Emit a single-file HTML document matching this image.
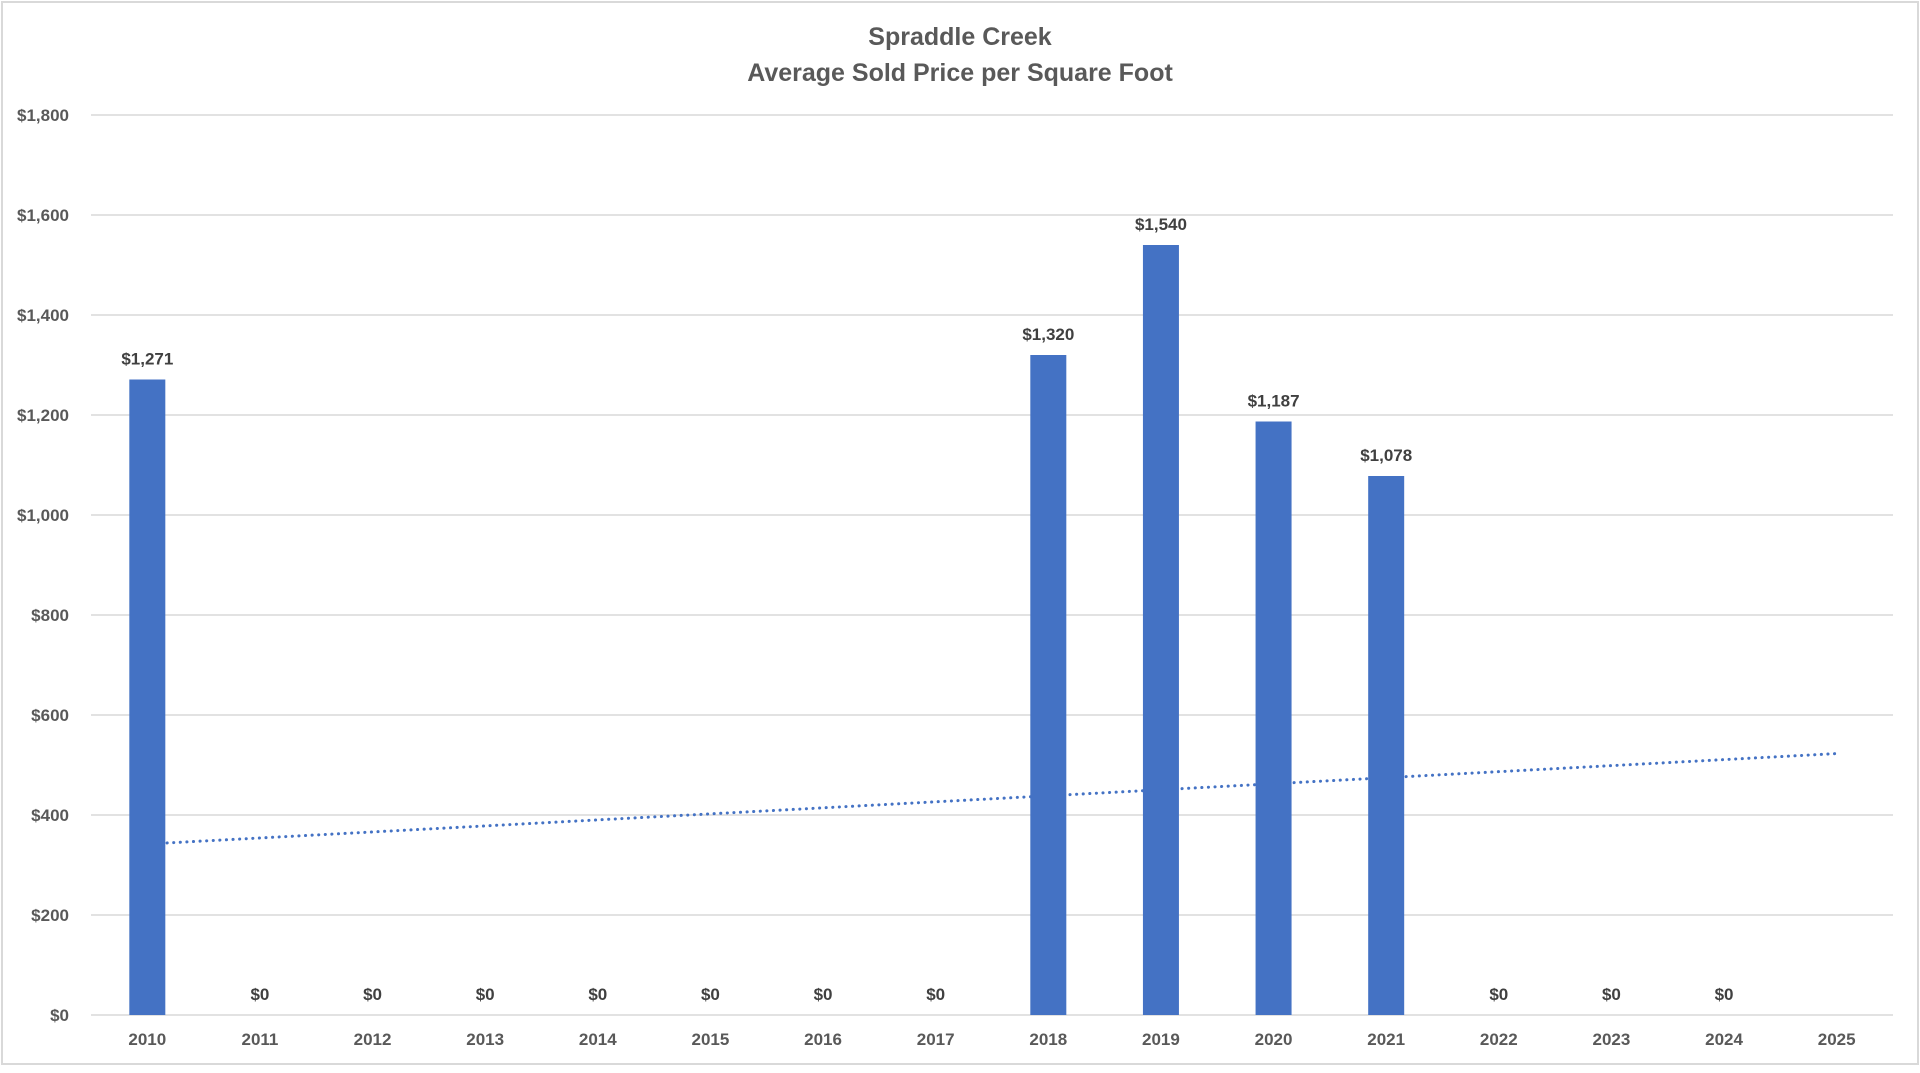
<!DOCTYPE html>
<html>
<head>
<meta charset="utf-8">
<style>
  html,body{margin:0;padding:0;background:#fff;}
  body{width:1920px;height:1068px;overflow:hidden;}
  svg text{font-family:"Liberation Sans",Arial,sans-serif;font-weight:bold;}
</style>
</head>
<body>
<svg id="chart" width="1920" height="1068" viewBox="0 0 1920 1068" xmlns="http://www.w3.org/2000/svg">
  <rect x="2" y="2" width="1916" height="1062" fill="#fff" stroke="#d9d9d9" stroke-width="2"/>
  <text x="960" y="45" text-anchor="middle" font-size="25" fill="#595959">Spraddle Creek</text>
  <text x="960" y="81" text-anchor="middle" font-size="25" fill="#595959">Average Sold Price per Square Foot</text>
  <g id="grid"></g>
  <g id="yaxis"></g>
  <g id="bars"></g>
  <g id="trend"></g>
  <g id="labels"></g>
  <g id="xaxis"></g>
</svg>
<script>
const categories = ["2010","2011","2012","2013","2014","2015","2016","2017","2018","2019","2020","2021","2022","2023","2024","2025"];
const values = [1271,0,0,0,0,0,0,0,1320,1540,1187,1078,0,0,0,null];
const yTicks = [0,200,400,600,800,1000,1200,1400,1600,1800];

const NS = "http://www.w3.org/2000/svg";
const plotLeft = 91, plotRight = 1893, plotTop = 115, plotBottom = 1015;
const yMax = 1800;
const band = (plotRight - plotLeft) / categories.length;
const barW = 36;
function xCenter(i){ return plotLeft + band * (i + 0.5); }
function yPos(v){ return plotBottom - (v / yMax) * (plotBottom - plotTop); }
function fmt(v){ return "$" + v.toLocaleString("en-US"); }
function mk(tag, attrs, parent){
  const el = document.createElementNS(NS, tag);
  for (const k in attrs) el.setAttribute(k, attrs[k]);
  parent.appendChild(el);
  return el;
}

const grid = document.getElementById("grid");
const yaxis = document.getElementById("yaxis");
yTicks.forEach(t => {
  const y = yPos(t);
  const ln = mk("line", {x1: plotLeft, x2: plotRight, y1: y, y2: y, stroke: "#d9d9d9", "stroke-width": 1.5}, grid);
  
  
  const tx = mk("text", {x: 69, y: y + 6, "text-anchor": "end", "font-size": 17, fill: "#595959"}, yaxis);
  tx.textContent = fmt(t);
  
  
});

const bars = document.getElementById("bars");
const labels = document.getElementById("labels");
const xaxis = document.getElementById("xaxis");
categories.forEach((c, i) => {
  const cx = xCenter(i);
  const v = values[i];
  if (v !== null && v > 0) {
    const r = mk("rect", {x: cx - barW/2, y: yPos(v), width: barW, height: plotBottom - yPos(v), fill: "#4472c4"}, bars);
    
    
  }
  if (v !== null) {
    const lt = mk("text", {x: cx, y: yPos(v) - 15, "text-anchor": "middle", "font-size": 17, fill: "#404040"}, labels);
    lt.textContent = fmt(v);
    
    
  }
  const xt = mk("text", {x: cx, y: 1045, "text-anchor": "middle", "font-size": 17, fill: "#595959"}, xaxis);
  xt.textContent = c;
  
  
});

// linear trendline from data (least squares over non-null points)
const pts = values.map((v, i) => [i, v]).filter(p => p[1] !== null);
const n = pts.length;
const mx = pts.reduce((s, p) => s + p[0], 0) / n;
const my = pts.reduce((s, p) => s + p[1], 0) / n;
let sxy = 0, sxx = 0;
pts.forEach(p => { sxy += (p[0]-mx)*(p[1]-my); sxx += (p[0]-mx)*(p[0]-mx); });
const slope = sxy / sxx, icpt = my - slope * mx;
const last = categories.length - 1;
const tl = mk("line", {x1: xCenter(0), y1: yPos(icpt), x2: xCenter(last), y2: yPos(icpt + slope*last),
  stroke: "#4472c4", "stroke-width": 3, "stroke-dasharray": "0.1 6.5", "stroke-linecap": "round"}, document.getElementById("trend"));


</script>
</body>
</html>
